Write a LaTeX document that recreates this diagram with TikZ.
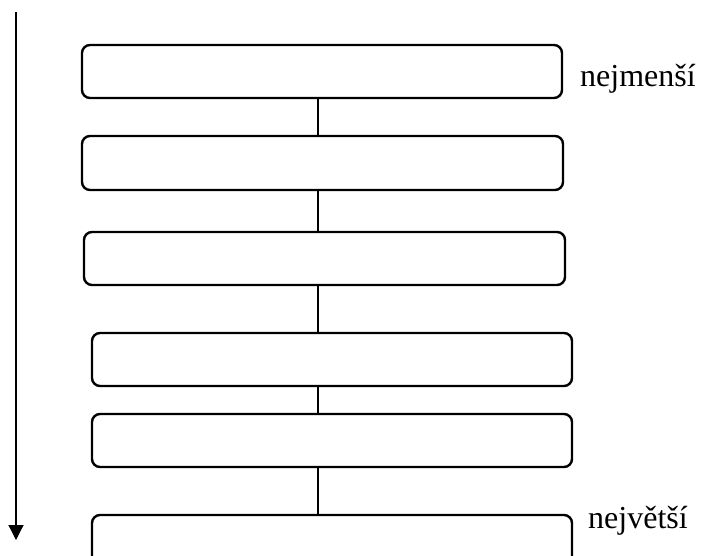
\documentclass[tikz,border=0pt]{standalone}
\usepackage{fontspec}
\setmainfont{Liberation Serif}
\usetikzlibrary{arrows.meta}
\begin{document}
\begin{tikzpicture}[x=1pt,y=1pt,
  levelbox/.style={draw=black,line width=2.4pt,rounded corners=8pt,minimum width=480pt,minimum height=53pt,inner sep=0pt},
  link/.style={draw=black,line width=2.4pt},
  lbl/.style={anchor=base west,inner sep=0pt,font=\fontsize{32}{36}\selectfont}]
\useasboundingbox (0,0) rectangle (701,-556);
\clip (0,0) rectangle (701,-556);
\node[levelbox] (b1) at (322,-71.5) {};
\node[levelbox,minimum width=481pt,minimum height=54pt] (b2) at (322.5,-163) {};
\node[levelbox,minimum width=481pt] (b3) at (324.5,-258.5) {};
\node[levelbox] (b4) at (332,-359.5) {};
\node[levelbox] (b5) at (332,-440.5) {};
\node[levelbox,minimum height=56pt] (b6) at (332,-543) {};
\coordinate (cx) at (318,0);
\draw[link] (b1.south -| cx) -- (b2.north -| cx);
\draw[link] (b2.south -| cx) -- (b3.north -| cx);
\draw[link] (b3.south -| cx) -- (b4.north -| cx);
\draw[link] (b4.south -| cx) -- (b5.north -| cx);
\draw[link] (b5.south -| cx) -- (b6.north -| cx);
\node[lbl] (t1) at (580,-87) {nejmenší};
\node[lbl] (t2) at (588,-528) {největší};
\coordinate (a1) at (16,-12);
\coordinate (a2) at (16,-540);
\draw[line width=1.2pt,-{Triangle[length=15pt,width=15pt]}] (a1) -- (a2);
\end{tikzpicture}
\end{document}
